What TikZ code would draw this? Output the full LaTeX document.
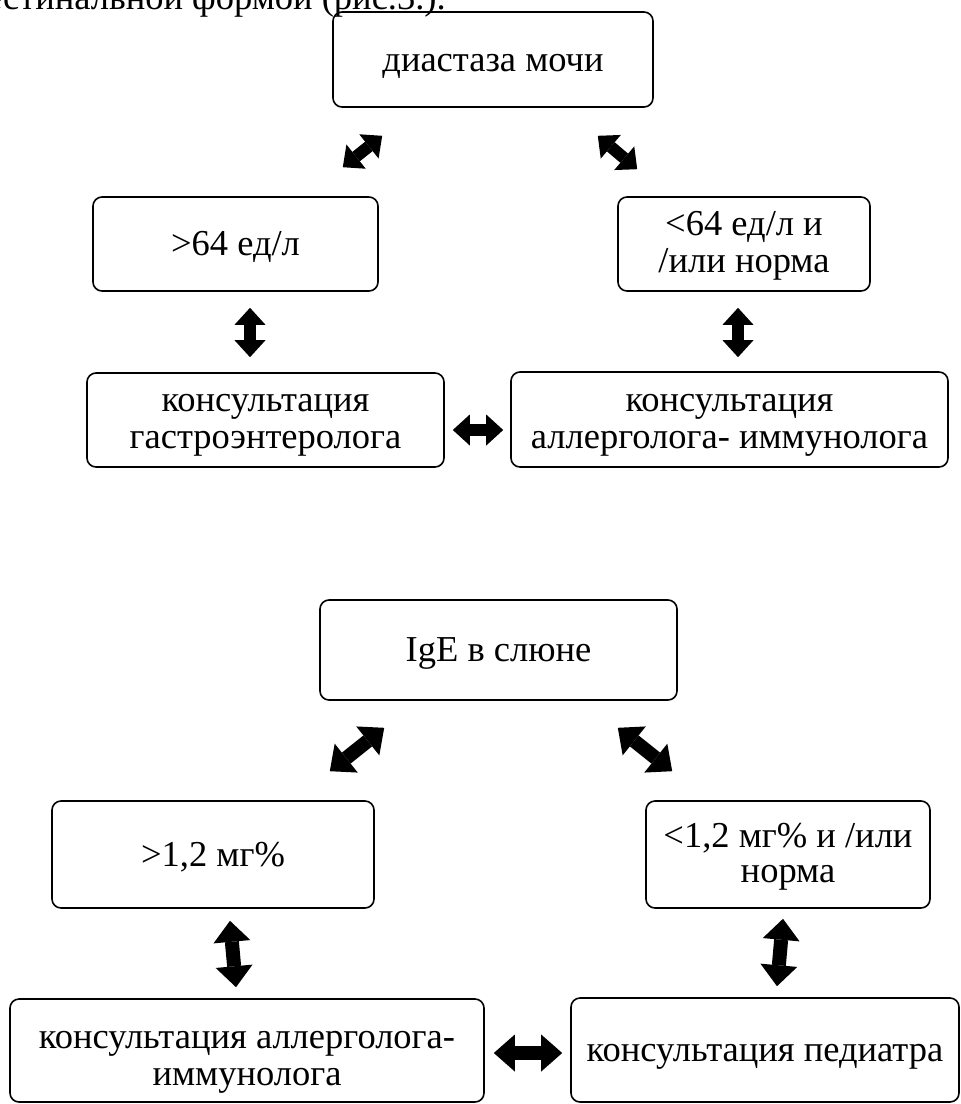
\documentclass[tikz,border=0pt]{standalone}
\usepackage{fontspec}
\setmainfont{Liberation Serif}
\usetikzlibrary{
  arrows.meta % For arrow tips
}

\begin{document}
\begin{tikzpicture}[
      x=1pt, y=-1pt, % Pixelmass, y nach unten
      box/.style={draw, line width=1.6pt, rounded corners=9pt, align=center,
        inner sep=0pt, font=\fontsize{36.5}{37}\selectfont},
      one/.style={box, text height=30pt, text depth=7pt}, % eine Zeile
      two/.style={box, text height=65pt, text depth=8pt}, % zwei Zeilen
      dblarrow/.style={line width=12pt, >={Triangle[length=17pt, width=31pt, line width=0pt]}, <->},
      bigarrow/.style={line width=14pt, >={Triangle[length=21pt, width=37pt, line width=0pt]}, <->},
    ]

    \useasboundingbox (0,0) rectangle (961,1104);
    \clip (0,0) rectangle (961,1104);

    % Textzeile oben (abgeschnitten)
    \node[anchor=base east, inner sep=0pt, font=\fontsize{36.5}{37}\selectfont] (intro) at (446,9)
      {интестинальной формой (рис.3.).};

    % Schema 1
    \node[one, minimum width=320pt, minimum height=95pt] (dia) at (493,59.5) {диастаза мочи};
    \node[one, minimum width=285pt, minimum height=94pt] (hi64) at (235.5,244) {>64 ед/л};
    \node[two, minimum width=252pt, minimum height=94pt] (lo64) at (744,244) {<64 ед/л и\\/или норма};
    \node[two, minimum width=357pt, minimum height=94pt] (gastro) at (265.5,420) {консультация\\гастроэнтеролога};
    \node[two, minimum width=437pt, minimum height=95pt] (allergA) at (729.5,419.5) {консультация\\аллерголога- иммунолога};

    \draw[dblarrow] ([shift={(50,28)}]dia.south west) -- ([shift={(-36,-29)}]hi64.north east);
    \draw[dblarrow] ([shift={(-56,28)}]dia.south east) -- ([shift={(20,-27)}]lo64.north west);
    \draw[dblarrow] ([shift={(14.5,16)}]hi64.south) -- ([shift={(-15.5,-15)}]gastro.north);
    \draw[dblarrow] ([shift={(-6,16)}]lo64.south) -- ([shift={(8.5,-14)}]allergA.north);
    \draw[dblarrow] ([shift={(8,10)}]gastro.east) -- ([shift={(-7,10.5)}]allergA.west);

    % Schema 2
    \node[one, minimum width=357pt, minimum height=100pt] (ige) at (498.5,650) {IgE в слюне};
    \node[one, minimum width=322pt, minimum height=107pt] (hi12) at (213,854.5) {>1,2 мг\%};
    \node[two, minimum width=284pt, minimum height=107pt, font=\fontsize{36.5}{35}\selectfont,
      text height=63pt] (lo12) at (788,854.5) {<1,2 мг\% и /или\\норма};
    \node[two, minimum width=474pt, minimum height=103pt, text height=77pt] (allergB) at (247,1050.5) {консультация аллерголога-\\иммунолога};
    \node[one, minimum width=388pt, minimum height=104pt] (pediatr) at (765,1050) {консультация педиатра};

    \draw[bigarrow] ([shift={(65,27)}]ige.south west) -- ([shift={(-45,-29)}]hi12.north east);
    \draw[bigarrow] ([shift={(-60,27)}]ige.south east) -- ([shift={(27,-29)}]lo12.north west);
    \draw[bigarrow] ([shift={(17,12)}]hi12.south) -- ([shift={(-11,-11)}]allergB.north);
    \draw[bigarrow] ([shift={(-5,10)}]lo12.south) -- ([shift={(12,-11)}]pediatr.north);
    \draw[bigarrow] ([shift={(9,2.5)}]allergB.east) -- ([shift={(-8,3)}]pediatr.west);

  \end{tikzpicture}
\end{document}
